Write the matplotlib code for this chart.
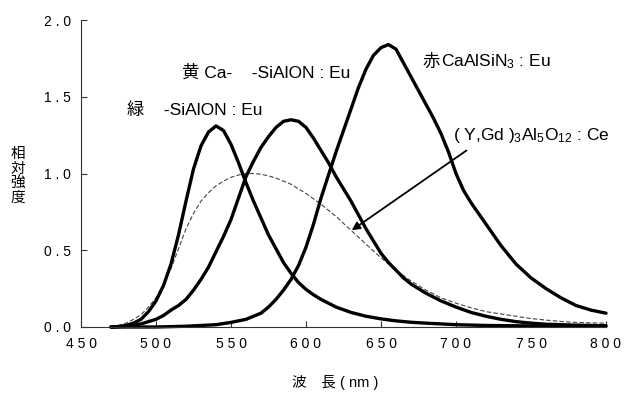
import matplotlib
matplotlib.use("Agg")
import matplotlib.pyplot as plt

plt.rcParams['font.family'] = ['Liberation Sans', 'Noto Sans CJK JP']
plt.rcParams['mathtext.fontset'] = 'custom'
plt.rcParams['mathtext.rm'] = 'Liberation Sans'
plt.rcParams['mathtext.it'] = 'Liberation Sans'

# green  b-SiAlON:Eu
wl_g = [470, 475, 480, 485, 490, 495, 500, 505, 510, 515, 520, 525, 530, 535, 540,
        545, 550, 555, 560, 565, 570, 575, 580, 585, 590, 595, 600, 605, 610, 620,
        630, 640, 650, 660, 670, 680, 690, 700, 720, 750, 800]
green = [0.0, 0.003, 0.01, 0.025, 0.05, 0.10, 0.17, 0.27, 0.41, 0.60, 0.82, 1.03, 1.18, 1.27, 1.31,
         1.28, 1.19, 1.07, 0.94, 0.82, 0.71, 0.60, 0.51, 0.42, 0.35, 0.29, 0.245, 0.21, 0.18, 0.13,
         0.095, 0.07, 0.053, 0.04, 0.031, 0.025, 0.02, 0.015, 0.01, 0.007, 0.005]

# yellow  Ca-a-SiAlON:Eu
wl_y = [470, 480, 490, 500, 505, 510, 515, 520, 525, 530, 535, 540, 545, 550, 555,
        560, 565, 570, 575, 580, 585, 590, 595, 600, 605, 610, 615, 620, 625, 630,
        635, 640, 645, 650, 655, 660, 665, 670, 680, 690, 700, 710, 720, 730, 740,
        750, 760, 780, 800]
yellow = [0.0, 0.005, 0.02, 0.05, 0.075, 0.11, 0.14, 0.18, 0.24, 0.31, 0.39, 0.49, 0.59, 0.70, 0.84,
          0.98, 1.08, 1.17, 1.24, 1.30, 1.34, 1.35, 1.34, 1.30, 1.23, 1.15, 1.07, 0.98, 0.90, 0.82,
          0.73, 0.64, 0.56, 0.48, 0.42, 0.37, 0.32, 0.28, 0.22, 0.17, 0.13, 0.095, 0.07, 0.05, 0.035,
          0.025, 0.018, 0.012, 0.008]

# red  CaAlSiN3:Eu
wl_r = [470, 500, 520, 540, 550, 560, 570, 575, 580, 585, 590, 595, 600, 605, 610,
        615, 620, 625, 630, 635, 640, 645, 650, 655, 660, 665, 670, 675, 680, 685,
        690, 695, 700, 705, 710, 715, 720, 725, 730, 740, 750, 760, 770, 780, 790,
        800]
red = [0.0, 0.0, 0.005, 0.015, 0.03, 0.05, 0.09, 0.13, 0.18, 0.24, 0.31, 0.40, 0.52, 0.67, 0.84,
       0.99, 1.14, 1.28, 1.42, 1.56, 1.68, 1.77, 1.82, 1.84, 1.81, 1.72, 1.63, 1.54, 1.45, 1.36,
       1.26, 1.14, 1.00, 0.89, 0.81, 0.74, 0.67, 0.60, 0.53, 0.41, 0.32, 0.25, 0.19, 0.14, 0.11,
       0.09]

# (Y,Gd)3Al5O12:Ce
wl_yag = [470, 475, 480, 485, 490, 495, 500, 505, 510, 515, 520, 525, 530, 535, 540,
          545, 550, 555, 560, 565, 570, 575, 580, 590, 600, 610, 620, 630, 640, 650,
          660, 670, 680, 690, 700, 710, 720, 730, 740, 750, 760, 770, 780, 790, 800]
yag = [0.0, 0.01, 0.025, 0.05, 0.08, 0.13, 0.19, 0.28, 0.38, 0.51, 0.64, 0.74, 0.82, 0.875, 0.92,
       0.95, 0.975, 0.99, 1.0, 1.0, 0.995, 0.985, 0.97, 0.93, 0.87, 0.80, 0.72, 0.63, 0.54, 0.45,
       0.37, 0.30, 0.24, 0.19, 0.155, 0.125, 0.10, 0.085, 0.07, 0.055, 0.045, 0.036, 0.03, 0.027, 0.025]

xticks = [450, 500, 550, 600, 650, 700, 750, 800]
yticks = [0.0, 0.5, 1.0, 1.5, 2.0]

fig = plt.figure(figsize=(6.29, 4.05), dpi=100)
ax = fig.add_axes([81 / 629, 1 - 327 / 405, 525 / 629, 307 / 405])

ax.plot(wl_yag, yag, color='#444444', lw=0.8, ls=(0, (4, 2)), clip_on=False)
for wl, v in [(wl_g, green), (wl_y, yellow), (wl_r, red)]:
    ax.plot(wl, v, color='black', lw=2.4, solid_capstyle='round', solid_joinstyle='round',
            clip_on=False)

ax.set_xlim(450, 800)
ax.set_ylim(0, 2.0)
ax.set_xticks(xticks)
ax.set_xticklabels([' '.join(str(t)) for t in xticks])
ax.set_yticks(yticks)
ax.set_yticklabels([' '.join('%.1f' % t) for t in yticks])
ax.tick_params(direction='in', length=4, width=0.8, color='#333333', labelsize=10, pad=7)
for s in ['top', 'right']:
    ax.spines[s].set_visible(False)
for s in ['left', 'bottom']:
    ax.spines[s].set_color('#333333')
    ax.spines[s].set_linewidth(0.8)

fs = 12.5
ax.text(517.5, 1.655, '黄 Ca-    -SiAlON : Eu', fontsize=fs, ha='left', va='center')
ax.text(480.5, 1.41, '緑    -SiAlON : Eu', fontsize=fs, ha='left', va='center')
ax.text(677.5, 1.73, '赤', fontsize=fs, ha='left', va='center')
ax.text(690, 1.73, r'CaAlSiN$_3$ : Eu', fontsize=fs, ha='left', va='center')
ax.text(698, 1.25, r'( Y,Gd )$_3$Al$_5$O$_{12}$ : Ce', fontsize=fs, ha='left', va='center')
ax.annotate('', xy=(630.5, 0.63), xytext=(707, 1.15),
            arrowprops=dict(arrowstyle='-|>', lw=1.3, color='black', mutation_scale=12,
                            shrinkA=0, shrinkB=0))

fig.text(18 / 629, 1 - 176 / 405, '相\n対\n強\n度', fontsize=10.5, ha='center', va='center',
         linespacing=1.05)
fig.text(335 / 629, 1 - 382 / 405, '波　長 ( nm )', fontsize=10.5, ha='center', va='center')

fig.savefig('out.png', dpi=100)
